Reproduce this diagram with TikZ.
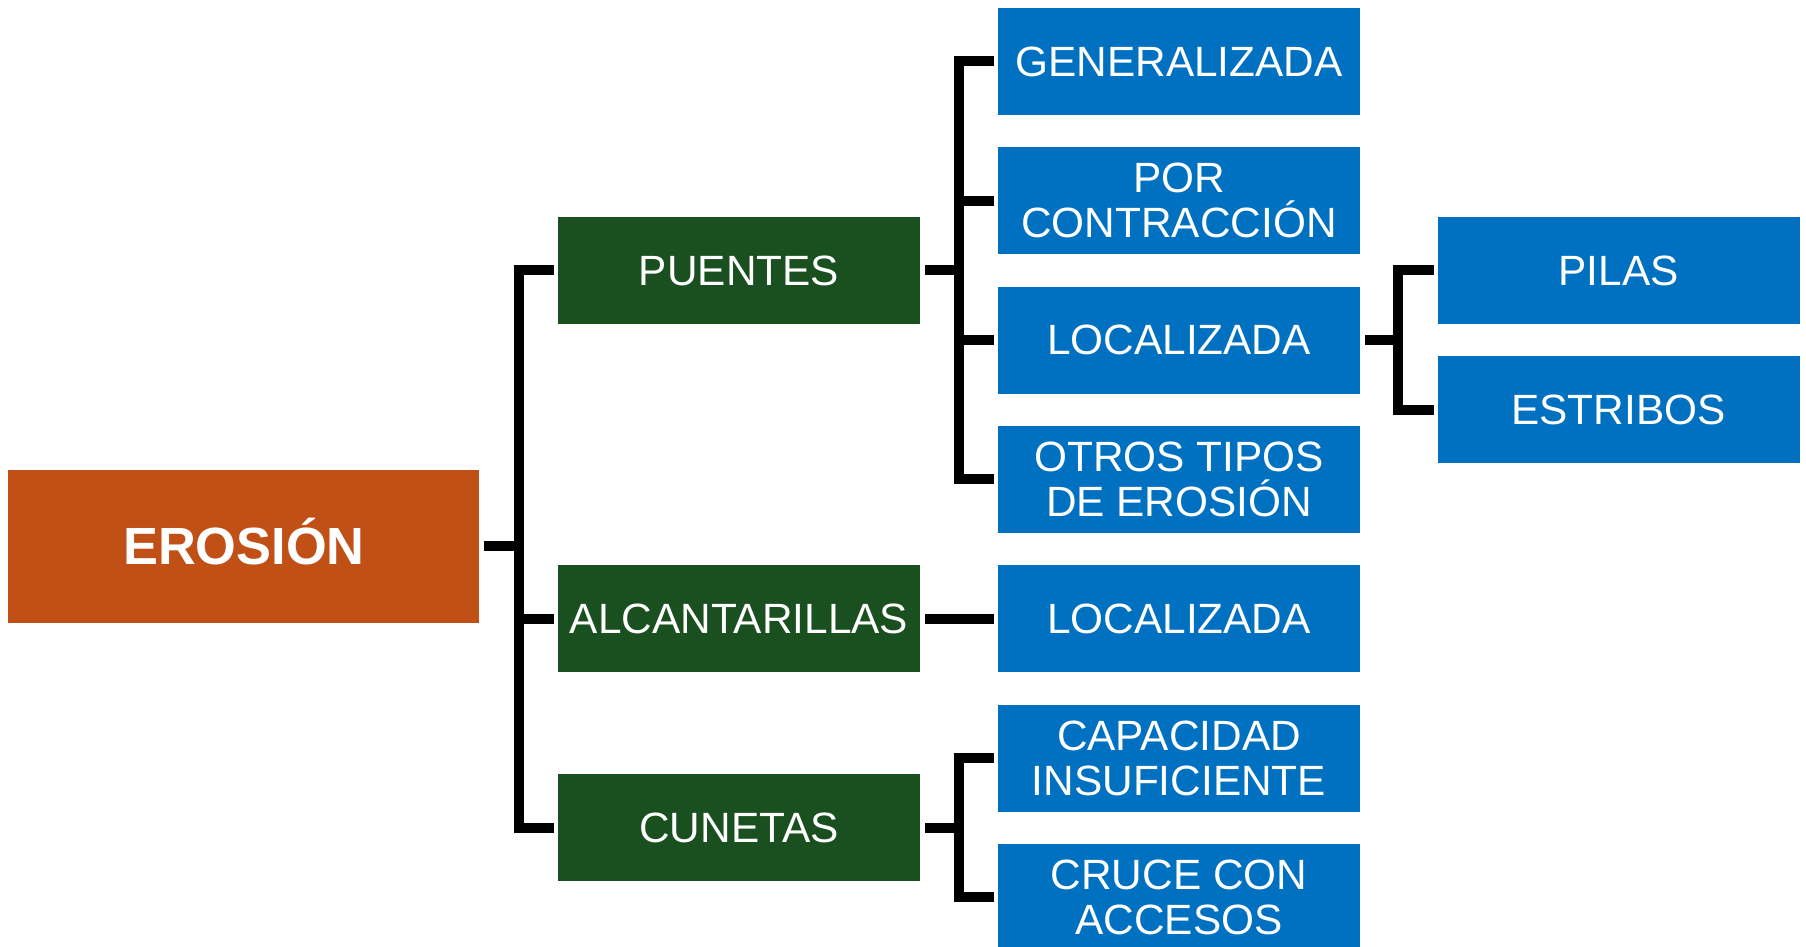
\documentclass[tikz,border=0pt]{standalone}
\usepackage{fontspec}
\setmainfont{Liberation Sans}
\usetikzlibrary{positioning,calc}

\definecolor{rootorange}{RGB}{192,80,22}
\definecolor{branchgreen}{RGB}{26,80,31}
\definecolor{leafblue}{RGB}{0,112,192}

\tikzset{
  leaf/.style={fill=leafblue, text=white, minimum width=3.62cm, minimum height=1.07cm,
    inner sep=0pt, outer sep=0pt, align=center, font=\fontsize{12.05}{12.8}\selectfont},
  branch/.style={leaf, fill=branchgreen},
  root/.style={leaf, fill=rootorange, minimum width=4.71cm, minimum height=1.53cm,
    text height=0.376cm, text depth=0pt, font=\bfseries\fontsize{14.9}{16}\selectfont},
  link/.style={draw=black, line width=0.1cm, shorten <=0.05cm, shorten >=0.04cm}
}

\begin{document}
\begin{tikzpicture}
        \useasboundingbox (0, 0) rectangle (18.06, -9.47);

        % blue column
        \node[leaf] (generalizada) at (11.79, -0.615) {GENERALIZADA};
        \node[leaf, below = 0.323 of generalizada] (contraccion) {POR\\CONTRACCIÓN};
        \node[leaf, below = 0.323 of contraccion] (localizada) {LOCALIZADA};
        \node[leaf, below = 0.323 of localizada] (otros) {OTROS TIPOS\\DE EROSIÓN};
        \node[leaf, below = 0.323 of otros] (localizada-alc) {LOCALIZADA};
        \node[leaf, below = 0.323 of localizada-alc] (capacidad) {CAPACIDAD\\INSUFICIENTE};
        \node[leaf, below = 0.323 of capacidad] (cruce) {CRUCE CON\\ACCESOS};

        % green column
        \node[branch, anchor=east] (puentes) at ($(contraccion.west)!0.5!(localizada.west) + (-0.78, 0)$) {PUENTES};
        \node[branch, left = 0.78 of localizada-alc] (alcantarillas) {ALCANTARILLAS};
        \node[branch, anchor=east] (cunetas) at ($(capacidad.west)!0.5!(cruce.west) + (-0.78, 0)$) {CUNETAS};

        \node[root, anchor=east] (erosion) at ($(puentes.west)!0.5!(cunetas.west) + (-0.786, 0.03)$) {EROSIÓN};

        % right column
        \node[leaf, anchor=west] (pilas) at ($(contraccion.east)!0.5!(localizada.east) + (0.775, 0)$) {PILAS};
        \node[leaf, anchor=west] (estribos) at ($(localizada.east)!0.5!(otros.east) + (0.775, 0)$) {ESTRIBOS};

        \draw[link] (erosion.east) -- ++(0.4, 0) |- (puentes.west);
        \draw[link] (erosion.east) -- ++(0.4, 0) |- (alcantarillas.west);
        \draw[link] (erosion.east) -- ++(0.4, 0) |- (cunetas.west);

        \draw[link] (puentes.east) -- ++(0.39, 0) |- (generalizada.west);
        \draw[link] (puentes.east) -- ++(0.39, 0) |- (contraccion.west);
        \draw[link] (puentes.east) -- ++(0.39, 0) |- (localizada.west);
        \draw[link] (puentes.east) -- ++(0.39, 0) |- (otros.west);

        \draw[link] (alcantarillas.east) -- (localizada-alc.west);

        \draw[link] (cunetas.east) -- ++(0.39, 0) |- (capacidad.west);
        \draw[link] (cunetas.east) -- ++(0.39, 0) |- (cruce.west);

        \draw[link] (localizada.east) -- ++(0.38, 0) |- (pilas.west);
        \draw[link] (localizada.east) -- ++(0.38, 0) |- (estribos.west);
      \end{tikzpicture}
\end{document}
